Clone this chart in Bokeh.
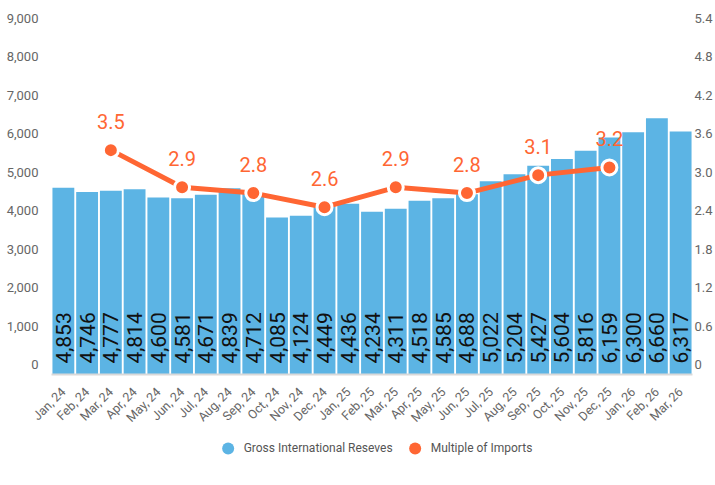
from math import pi
from bokeh.plotting import figure
from bokeh.layouts import column
from bokeh.models import (FactorRange, Range1d, LinearAxis, FixedTicker, Legend,
                          LegendItem, ColumnDataSource)
from bokeh.core.properties import value
from bokeh.embed import file_html
from bokeh.resources import INLINE

# ---------------- data ----------------
months = ["Jan, 24", "Feb, 24", "Mar, 24", "Apr, 24", "May, 24", "Jun, 24",
          "Jul, 24", "Aug, 24", "Sep, 24", "Oct, 24", "Nov, 24", "Dec, 24",
          "Jan, 25", "Feb, 25", "Mar, 25", "Apr, 25", "May, 25", "Jun, 25",
          "Jul, 25", "Aug, 25", "Sep, 25", "Oct, 25", "Nov, 25", "Dec, 25",
          "Jan, 26", "Feb, 26", "Mar, 26"]
reserves = [4853, 4746, 4777, 4814, 4600, 4581, 4671, 4839, 4712, 4085, 4124, 4449,
            4436, 4234, 4311, 4518, 4585, 4688, 5022, 5204, 5427, 5604, 5816, 6159,
            6300, 6660, 6317]
import_months = ["Mar, 24", "Jun, 24", "Sep, 24", "Dec, 24",
                 "Mar, 25", "Jun, 25", "Sep, 25", "Dec, 25"]
import_multiple = [3.50, 2.92, 2.83, 2.61, 2.92, 2.83, 3.11, 3.23]

left_ticks = [0, 1000, 2000, 3000, 4000, 5000, 6000, 7000, 8000, 9000]
left_labels = ["0", "1,000", "2,000", "3,000", "4,000", "5,000", "6,000",
               "7,000", "8,000", "9,000"]
right_ticks = [0, 0.6, 1.2, 1.8, 2.4, 3.0, 3.6, 4.2, 4.8, 5.4]
right_labels = ["0", "0.6", "1.2", "1.8", "2.4", "3.0", "3.6", "4.2", "4.8", "5.4"]

series_names = ["Gross International Reseves", "Multiple of Imports"]

# ---------------- style ----------------
BLUE = "#5CB4E4"
ORANGE = "#FF6633"
GREY = "#666666"
FONT = "Roboto"

W = 715
TOP = 12
FRAME_H = 366
BOTTOM = 55
H_MAIN = TOP + FRAME_H + BOTTOM      # 433
H_LEG = 30

PX_PER_UNIT = 350 / 9000.0           # 9000 spans 350 px
y_end = FRAME_H / PX_PER_UNIT
r_scale = 5.4 / 9000.0
r_end = y_end * r_scale
shift_l = 10 / PX_PER_UNIT           # tick labels sit 10 px above their value
shift_r = shift_l * r_scale

p = figure(width=W, height=H_MAIN, x_range=FactorRange(*months),
           y_range=Range1d(0, y_end), output_backend="svg",
           toolbar_location=None, y_axis_location=None,
           min_border_left=51, min_border_right=20, min_border_top=TOP,
           min_border_bottom=BOTTOM)
p.outline_line_color = None
p.xgrid.visible = False
p.ygrid.visible = False

p.extra_y_ranges = {
    "lab_l": Range1d(-shift_l, y_end - shift_l),
    "mult": Range1d(0, r_end),
    "lab_r": Range1d(-shift_r, r_end - shift_r),
}

# x axis
xa = p.xaxis[0]
xa.axis_line_color = "#D9D9D9"
xa.axis_line_width = 2
xa.major_tick_line_color = None
xa.minor_tick_line_color = None
xa.major_label_orientation = pi / 4
xa.major_label_standoff = 9
xa.major_label_text_font = FONT
xa.major_label_text_font_size = "12.5px"
xa.major_label_text_color = GREY


def style_y(ax, ticks, labels, standoff):
    ax.ticker = FixedTicker(ticks=ticks)
    ax.major_label_overrides = dict(zip(ticks, labels))
    ax.axis_line_color = None
    ax.major_tick_line_color = None
    ax.minor_tick_line_color = None
    ax.major_tick_out = 0
    ax.major_tick_in = 0
    ax.minor_tick_out = 0
    ax.minor_tick_in = 0
    ax.axis_label_standoff = 0
    ax.major_label_standoff = standoff
    ax.major_label_text_font = FONT
    ax.major_label_text_font_size = "13px"
    ax.major_label_text_color = GREY


ly = LinearAxis(y_range_name="lab_l")
style_y(ly, left_ticks, left_labels, 13)
p.add_layout(ly, "left")
ry = LinearAxis(y_range_name="lab_r")
style_y(ry, right_ticks, right_labels, 2)
p.add_layout(ry, "right")

# bars
bar_src = ColumnDataSource(dict(month=months, val=reserves,
                                txt=[f"{v:,}" for v in reserves]))
p.vbar(x="month", top="val", width=0.92, source=bar_src,
       fill_color=BLUE, line_color=None)
p.text(x="month", y=11 / PX_PER_UNIT, text="txt", source=bar_src,
       angle=pi / 2, text_align="left", text_baseline="middle",
       text_font=value(FONT), text_font_size="21px", text_color="#111111")

# line
off = 29 * 5.4 / 350
line_src = ColumnDataSource(dict(month=import_months, val=import_multiple,
                                 ly=[v + off for v in import_multiple],
                                 txt=[f"{v:.1f}" for v in import_multiple]))
p.line(x="month", y="val", source=line_src, y_range_name="mult",
       line_color=ORANGE, line_width=5)
p.scatter(x="month", y="val", source=line_src, y_range_name="mult",
          marker="circle", size=15, fill_color=ORANGE, line_color="white",
          line_width=3)
p.text(x="month", y="ly", text="txt", source=line_src, y_range_name="mult",
       text_align="center", text_baseline="middle", text_font=value(FONT),
       text_font_size="20px", text_color=ORANGE)

# legend in its own strip below the chart
nan = float("nan")
lg = figure(width=W, height=H_LEG, output_backend="svg", toolbar_location=None,
            x_axis_location=None, y_axis_location=None, min_border=0,
            x_range=Range1d(0, 1), y_range=Range1d(0, 1))
lg.outline_line_color = None
lg.xgrid.visible = False
lg.ygrid.visible = False
leg_b = lg.scatter(x=[nan], y=[nan], marker="circle", fill_color=BLUE,
                   line_color=None)
leg_o = lg.scatter(x=[nan], y=[nan], marker="circle", fill_color=ORANGE,
                   line_color=None)
legend = Legend(items=[LegendItem(label=series_names[0], renderers=[leg_b]),
                       LegendItem(label=series_names[1], renderers=[leg_o])],
                orientation="horizontal", location="center",
                glyph_width=33, glyph_height=30, label_standoff=0, spacing=5,
                padding=0, margin=0, border_line_color=None,
                background_fill_alpha=0, label_text_font=FONT,
                label_text_font_size="12px", label_text_color="#555555")
lg.add_layout(legend, "center")

open("out.html", "w").write(file_html(column(p, lg, spacing=0), INLINE))
